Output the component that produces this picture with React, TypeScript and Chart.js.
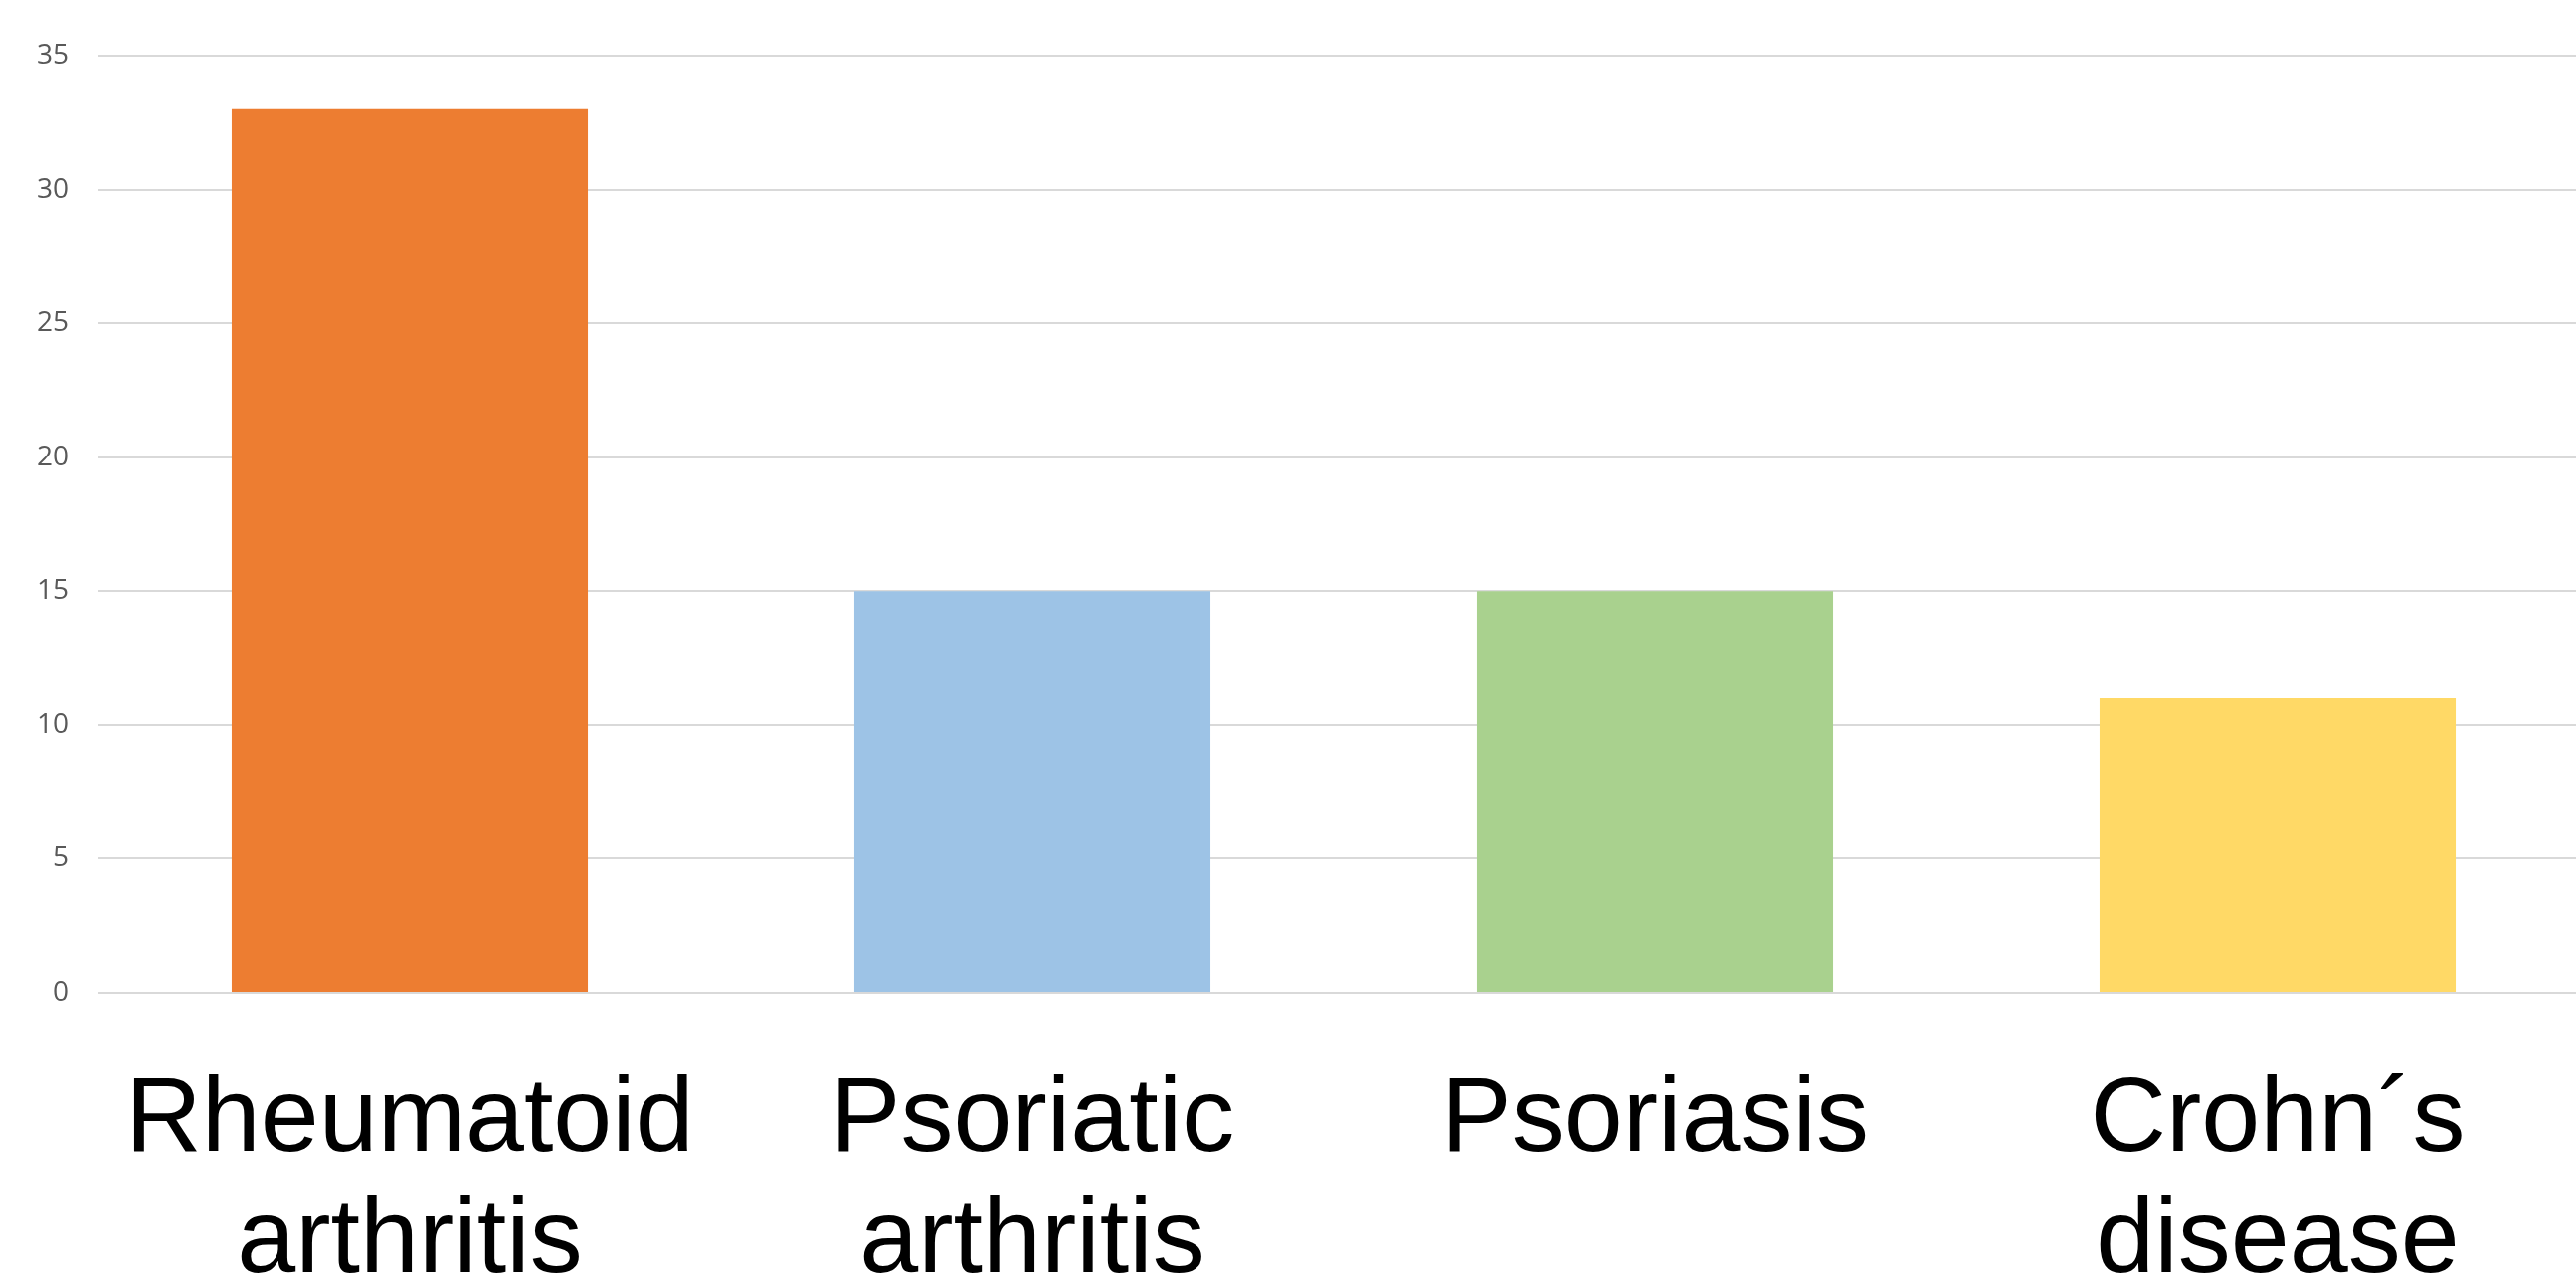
import React, { useEffect, useRef } from "react";
import { Chart, registerables } from "chart.js";

Chart.register(...registerables);

const categories: string[][] = [
  ["Rheumatoid", "arthritis"],
  ["Psoriatic", "arthritis"],
  ["Psoriasis"],
  ["Crohn´s", "disease"],
];
const values: number[] = [33, 15, 15, 11];
const barColors: string[] = ["#ED7D31", "#9DC3E6", "#A9D18E", "#FFD966"];
const yMin = 0;
const yMax = 35;
const yStep = 5;

export default function App() {
  const ref = useRef<HTMLCanvasElement | null>(null);

  useEffect(() => {
    if (!ref.current) return;
    const chart = new Chart(ref.current, {
      type: "bar",
      data: {
        labels: categories,
        datasets: [
          {
            data: values,
            backgroundColor: barColors,
            borderWidth: 0,
            barPercentage: 1,
            categoryPercentage: 0.572,
          },
        ],
      },
      options: {
        animation: false,
        responsive: false,
        maintainAspectRatio: false,
        layout: { padding: { top: 56, right: 0, bottom: 0, left: 0 } },
        plugins: {
          legend: { display: false },
          title: { display: false },
          tooltip: { enabled: false },
        },
        scales: {
          x: {
            grid: { display: false, drawTicks: false },
            border: { display: false },
            ticks: {
              color: "#000000",
              padding: 69,
              maxRotation: 0,
              autoSkip: false,
              font: { family: "'Liberation Sans', Arial, sans-serif", size: 106, lineHeight: 1.15 },
            },
            afterFit: (scale: any) => {
              scale.height = 300;
            },
          },
          y: {
            min: yMin,
            max: yMax,
            grid: { color: "#D9D9D9", lineWidth: 2, drawTicks: false },
            border: { display: false },
            ticks: {
              stepSize: yStep,
              color: "#595959",
              padding: 30,
              font: { family: "'Open Sans', 'Noto Sans', sans-serif", size: 28 },
            },
            afterFit: (scale: any) => {
              scale.width = 99;
            },
          },
        },
      },
    });
    return () => chart.destroy();
  }, []);

  return (
    <div
      style={{
        position: "fixed",
        left: 0,
        top: 0,
        width: 2590,
        height: 1285,
        overflow: "hidden",
        background: "#ffffff",
      }}
    >
      <canvas
        ref={ref}
        width={2603}
        height={1298}
        style={{ display: "block", width: 2603, height: 1298 }}
      />
    </div>
  );
}
